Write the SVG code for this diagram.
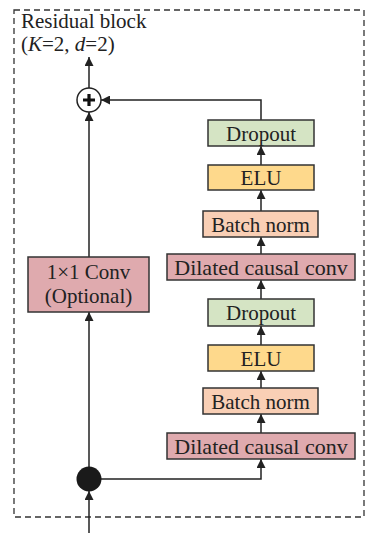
<svg xmlns="http://www.w3.org/2000/svg" width="368" height="533" viewBox="0 0 368 533">
  <style>
    .lbl { font-family: "Liberation Serif", "Times New Roman", serif; font-size: 21px; fill: #222; }
    .wide { font-size: 22px; }
    .box { stroke: #333; stroke-width: 1.5; }
    .drop { fill: #d5e4c4; }
    .elu { fill: #fed98c; }
    .bn { fill: #f9cfb5; }
    .conv { fill: #dfaaae; }
    .wire { fill: none; stroke: #222; stroke-width: 1.5; }
  </style>
  <defs>
    <marker id="arrow" viewBox="0 0 10 10" refX="10" refY="5" markerWidth="9" markerHeight="9" markerUnits="userSpaceOnUse" orient="auto">
      <path d="M0,0 L10,5 L0,10 z" fill="#222"/>
    </marker>
  </defs>
  <rect width="368" height="533" fill="#fff"/>

  <!-- block frame -->
  <rect x="14" y="10" width="350" height="507" fill="none" stroke="#333" stroke-width="1.3" stroke-dasharray="6,4"/>
  <text class="lbl" x="21" y="28">Residual block</text>
  <text class="lbl" x="21" y="51">(<tspan font-style="italic">K</tspan>=2, <tspan font-style="italic">d</tspan>=2)</text>

  <!-- connectors -->
  <g id="connectors">
    <line class="wire" x1="89" y1="533" x2="89" y2="491" marker-end="url(#arrow)"/>
    <line class="wire" x1="89" y1="479" x2="89" y2="312" marker-end="url(#arrow)"/>
    <line class="wire" x1="89" y1="257" x2="89" y2="112" marker-end="url(#arrow)"/>
    <line class="wire" x1="89" y1="88" x2="89" y2="57" marker-end="url(#arrow)"/>
    <polyline class="wire" points="101,479 261,479 261,459" marker-end="url(#arrow)"/>
    <line class="wire" x1="261" y1="433" x2="261" y2="414" marker-end="url(#arrow)"/>
    <line class="wire" x1="261" y1="388" x2="261" y2="371" marker-end="url(#arrow)"/>
    <line class="wire" x1="261" y1="345" x2="261" y2="326" marker-end="url(#arrow)"/>
    <line class="wire" x1="261" y1="299" x2="261" y2="280" marker-end="url(#arrow)"/>
    <line class="wire" x1="261" y1="254" x2="261" y2="237" marker-end="url(#arrow)"/>
    <line class="wire" x1="261" y1="211" x2="261" y2="190" marker-end="url(#arrow)"/>
    <line class="wire" x1="261" y1="165" x2="261" y2="146" marker-end="url(#arrow)"/>
    <polyline class="wire" points="261,120 261,100 101,100" marker-end="url(#arrow)"/>
  </g>

  <!-- split point -->
  <g id="split">
    <circle cx="89" cy="479" r="12.5" fill="#1a1a1a"/>
  </g>

  <!-- sum node -->
  <g id="sum">
    <circle cx="89" cy="100" r="12" fill="#fff" stroke="#222" stroke-width="1.5"/>
    <path d="M89,94 V106 M83,100 H95" stroke="#111" stroke-width="3.2"/>
  </g>

  <g id="conv1x1">
    <rect class="box conv" x="28" y="257" width="121" height="55"/>
    <text class="lbl" x="88.5" y="279" text-anchor="middle">1×1 Conv</text>
    <text class="lbl" x="88.5" y="303" text-anchor="middle">(Optional)</text>
  </g>

  <g id="dconv1">
    <rect class="box conv" x="167" y="433" width="188" height="26"/>
    <text class="lbl wide" x="261" y="453.5" text-anchor="middle">Dilated causal conv</text>
  </g>
  <g id="bn1">
    <rect class="box bn" x="203" y="388" width="115" height="26"/>
    <text class="lbl" x="260.5" y="408.5" text-anchor="middle">Batch norm</text>
  </g>
  <g id="elu1">
    <rect class="box elu" x="208" y="345" width="106" height="26"/>
    <text class="lbl" x="261" y="365.5" text-anchor="middle">ELU</text>
  </g>
  <g id="drop1">
    <rect class="box drop" x="208" y="299" width="106" height="27"/>
    <text class="lbl" x="261" y="320" text-anchor="middle">Dropout</text>
  </g>

  <g id="dconv2">
    <rect class="box conv" x="167" y="254" width="188" height="26"/>
    <text class="lbl wide" x="261" y="274.5" text-anchor="middle">Dilated causal conv</text>
  </g>
  <g id="bn2">
    <rect class="box bn" x="203" y="211" width="115" height="26"/>
    <text class="lbl" x="260.5" y="231.5" text-anchor="middle">Batch norm</text>
  </g>
  <g id="elu2">
    <rect class="box elu" x="208" y="165" width="106" height="25"/>
    <text class="lbl" x="261" y="185" text-anchor="middle">ELU</text>
  </g>
  <g id="drop2">
    <rect class="box drop" x="208" y="120" width="106" height="26"/>
    <text class="lbl" x="261" y="140.5" text-anchor="middle">Dropout</text>
  </g>
</svg>
